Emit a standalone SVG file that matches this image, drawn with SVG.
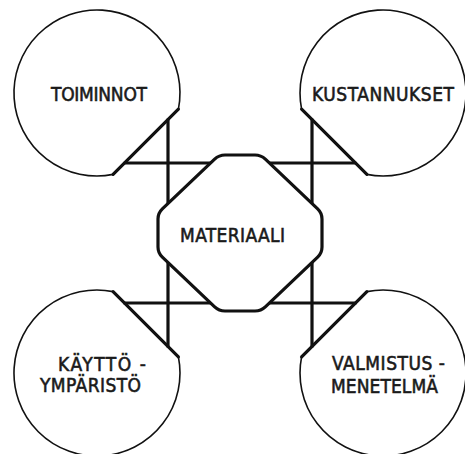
<svg xmlns="http://www.w3.org/2000/svg" width="465" height="454" viewBox="0 0 465 454">
<style>
.bg{fill:#fff}
.thin{fill:none;stroke:#111;stroke-width:1.6}
.thick{fill:none;stroke:#111;stroke-width:3.2;stroke-linecap:round;stroke-linejoin:round}
.oct{fill:#fff;stroke:#111;stroke-width:3.2;stroke-linejoin:round}
.lbl{font-family:"DejaVu Sans Condensed","DejaVu Sans",sans-serif;font-stretch:condensed;font-size:19px;fill:#1a1a1a;stroke:#1a1a1a;stroke-width:0.55}
</style>
<rect class="bg" x="0" y="0" width="465" height="454"/>
<g id="connectors">
<path class="thick" d="M168,119.5 L168,203.5 M124.5,163 L210.6,163"/>
<path class="thick" d="M312,119.5 L312,203.5 M355.5,163 L269.4,163"/>
<path class="thick" d="M168,346.5 L168,262.5 M124.5,303 L210.6,303"/>
<path class="thick" d="M312,346.5 L312,262.5 M355.5,303 L269.4,303"/>
</g>
<g id="toiminnot">
<path class="thin" d="M178.4,109.1 A83,83 0 1 0 113.1,174.4"/>
<path class="thick" d="M178.4,109.1 L113.1,174.4"/>
<text class="lbl" x="51" y="101" textLength="96" lengthAdjust="spacing">TOIMINNOT</text>
</g>
<g id="kustannukset">
<path class="thin" d="M301.6,109.1 A83,83 0 1 1 366.9,174.4"/>
<path class="thick" d="M301.6,109.1 L366.9,174.4"/>
<text class="lbl" x="312" y="101" textLength="142" lengthAdjust="spacing">KUSTANNUKSET</text>
</g>
<g id="kayttoymparisto">
<path class="thin" d="M178.4,356.9 A83,83 0 1 1 113.1,291.6"/>
<path class="thick" d="M178.4,356.9 L113.1,291.6"/>
<text class="lbl" x="58" y="371" textLength="88" lengthAdjust="spacing">KÄYTTÖ -</text>
<text class="lbl" x="40" y="392" textLength="101" lengthAdjust="spacing">YMPÄRISTÖ</text>
</g>
<g id="valmistusmenetelma">
<path class="thin" d="M301.6,356.9 A83,83 0 1 0 366.9,291.6"/>
<path class="thick" d="M301.6,356.9 L366.9,291.6"/>
<text class="lbl" x="332" y="370" textLength="113" lengthAdjust="spacing">VALMISTUS -</text>
<text class="lbl" x="331" y="393" textLength="107" lengthAdjust="spacing">MENETELMÄ</text>
</g>
<g id="materiaali">
<path class="oct" d="M225,155 L255,155 Q261,155 265.35,159.13 L317.65,208.87 Q322,213 322,219 L322,247 Q322,253 317.65,257.13 L265.35,306.87 Q261,311 255,311 L225,311 Q219,311 214.65,306.87 L162.35,257.13 Q158,253 158,247 L158,219 Q158,213 162.35,208.87 L214.65,159.13 Q219,155 225,155 Z"/>
<text class="lbl" x="180" y="242" textLength="105" lengthAdjust="spacing">MATERIAALI</text>
</g>
</svg>
